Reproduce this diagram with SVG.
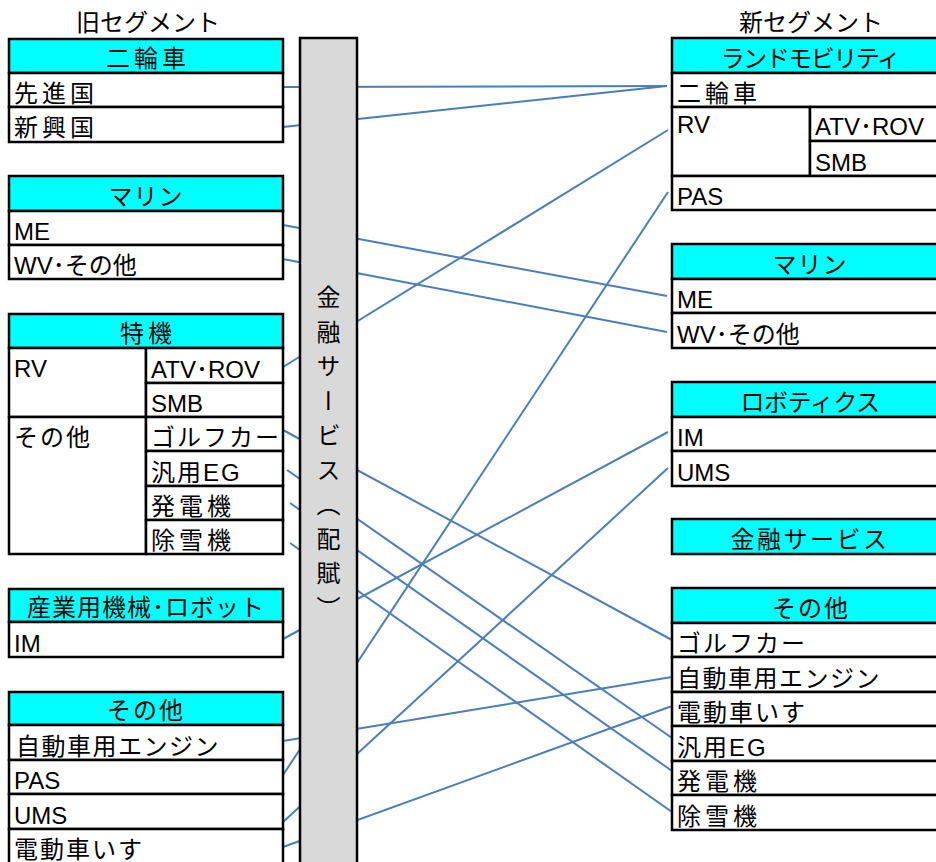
<svg xmlns="http://www.w3.org/2000/svg" width="936" height="862" viewBox="0 0 936 862">
<style>
text{font-family:"Liberation Sans","Noto Sans CJK JP",sans-serif;font-size:24px;fill:#000}
.t{font-size:24px;text-anchor:middle}
.h{text-anchor:middle;letter-spacing:1px}
.k{text-anchor:middle;letter-spacing:4px}
.j{letter-spacing:2px}
.jk{letter-spacing:4px}
.hd{fill:#00ffff;stroke:#000;stroke-width:2.5}
.rw{fill:#fff;stroke:#000;stroke-width:2.5}
.cn line{stroke:#4a7ebb;stroke-width:2;fill:none}
.bar{fill:#d9d9d9;stroke:#000;stroke-width:2.5}
.vt{font-family:"Noto Sans CJK JP",sans-serif;writing-mode:vertical-rl;letter-spacing:10.5px}
</style>
<rect width="936" height="862" fill="#fff"/>
<text class="t" x="148" y="31">旧セグメント</text>
<text class="t" x="811" y="31">新セグメント</text>

<g id="connectors" class="cn">
<line x1="283" y1="87" x2="667" y2="86"/>
<line x1="283" y1="127" x2="667" y2="86"/>
<line x1="283" y1="225" x2="667" y2="296"/>
<line x1="283" y1="259" x2="667" y2="332"/>
<line x1="283" y1="367" x2="668" y2="130"/>
<line x1="283" y1="430" x2="672" y2="640"/>
<line x1="287" y1="470" x2="672" y2="738"/>
<line x1="290" y1="503" x2="672" y2="771"/>
<line x1="290" y1="543" x2="672" y2="812"/>
<line x1="283" y1="639" x2="668" y2="432"/>
<line x1="283" y1="741" x2="672" y2="677"/>
<line x1="283" y1="775" x2="668" y2="192"/>
<line x1="283" y1="822" x2="668" y2="468"/>
<line x1="283" y1="847" x2="672" y2="706"/>
</g>

<g id="old-nirinsha">
<rect class="hd" x="9" y="39" width="274" height="34"/>
<rect class="rw" x="9" y="73" width="274" height="34"/>
<rect class="rw" x="9" y="107" width="274" height="35"/>
<text class="k" x="148" y="67">二輪車</text>
<text class="jk" x="14" y="102">先進国</text>
<text class="jk" x="14" y="136">新興国</text>
</g>

<g id="old-marine">
<rect class="hd" x="9" y="176" width="274" height="35"/>
<rect class="rw" x="9" y="211" width="274" height="34"/>
<rect class="rw" x="9" y="245" width="274" height="34"/>
<text class="h" x="146" y="205">マリン</text>
<text x="14" y="240">ME</text>
<text x="14" y="274">WV･その他</text>
</g>

<g id="old-tokki">
<rect class="hd" x="9" y="314" width="274" height="34"/>
<rect class="rw" x="9" y="348" width="137" height="69"/>
<rect class="rw" x="9" y="417" width="137" height="137"/>
<rect class="rw" x="146" y="348" width="137" height="35"/>
<rect class="rw" x="146" y="383" width="137" height="34"/>
<rect class="rw" x="146" y="417" width="137" height="34"/>
<rect class="rw" x="146" y="451" width="137" height="35"/>
<rect class="rw" x="146" y="486" width="137" height="34"/>
<rect class="rw" x="146" y="520" width="137" height="34"/>
<text class="k" x="148" y="342">特機</text>
<text x="14" y="377">RV</text>
<text x="151" y="378">ATV･ROV</text>
<text x="151" y="412">SMB</text>
<text class="j" x="14" y="446">その他</text>
<text class="j" x="151" y="446">ゴルフカー</text>
<text x="151" y="481" style="letter-spacing:2px">汎用EG</text>
<text class="jk" x="151" y="515">発電機</text>
<text class="jk" x="151" y="549">除雪機</text>
</g>

<g id="old-sangyo">
<rect class="hd" x="9" y="589" width="274" height="33"/>
<rect class="rw" x="9" y="622" width="274" height="35"/>
<text class="h" x="146" y="616">産業用機械･ロボット</text>
<text x="14" y="652">IM</text>
</g>

<g id="old-sonota">
<rect class="hd" x="9" y="692" width="274" height="33"/>
<rect class="rw" x="9" y="725" width="274" height="35"/>
<rect class="rw" x="9" y="760" width="274" height="34"/>
<rect class="rw" x="9" y="794" width="274" height="35"/>
<rect class="rw" x="9" y="829" width="274" height="40"/>
<text class="h" x="146" y="719" style="letter-spacing:2px">その他</text>
<text x="16" y="755" style="letter-spacing:1.5px">自動車用エンジン</text>
<text x="14" y="789">PAS</text>
<text x="14" y="824">UMS</text>
<text class="j" x="14" y="858">電動車いす</text>
</g>

<g id="finance-bar">
<rect class="bar" x="300" y="38" width="57" height="840"/>
<text class="vt" x="328.5" y="285">金融サービス（配賦）</text>
</g>

<g id="new-land">
<rect class="hd" x="672" y="38" width="276" height="35"/>
<rect class="rw" x="672" y="73" width="276" height="34"/>
<rect class="rw" x="672" y="107" width="138" height="69"/>
<rect class="rw" x="810" y="107" width="138" height="34"/>
<rect class="rw" x="810" y="141" width="138" height="35"/>
<rect class="rw" x="672" y="176" width="276" height="34"/>
<text class="h" x="810" y="67" style="letter-spacing:-1.5px">ランドモビリティ</text>
<text class="jk" x="677" y="102">二輪車</text>
<text x="677" y="133">RV</text>
<text x="815" y="135">ATV･ROV</text>
<text x="815" y="171">SMB</text>
<text x="677" y="205">PAS</text>
</g>

<g id="new-marine">
<rect class="hd" x="672" y="244" width="276" height="35"/>
<rect class="rw" x="672" y="279" width="276" height="34"/>
<rect class="rw" x="672" y="313" width="276" height="35"/>
<text class="h" x="810" y="273">マリン</text>
<text x="677" y="308">ME</text>
<text x="677" y="343">WV･その他</text>
</g>

<g id="new-robotics">
<rect class="hd" x="672" y="382" width="276" height="35"/>
<rect class="rw" x="672" y="417" width="276" height="34"/>
<rect class="rw" x="672" y="451" width="276" height="35"/>
<text class="h" x="810" y="411" style="letter-spacing:-0.5px">ロボティクス</text>
<text x="677" y="446">IM</text>
<text x="677" y="481">UMS</text>
</g>

<g id="new-finance">
<rect class="hd" x="672" y="519" width="276" height="35"/>
<text class="h" x="810" y="548" style="letter-spacing:2.5px">金融サービス</text>
</g>

<g id="new-sonota">
<rect class="hd" x="672" y="588" width="276" height="35"/>
<rect class="rw" x="672" y="623" width="276" height="34"/>
<rect class="rw" x="672" y="657" width="276" height="35"/>
<rect class="rw" x="672" y="692" width="276" height="34"/>
<rect class="rw" x="672" y="726" width="276" height="35"/>
<rect class="rw" x="672" y="761" width="276" height="34"/>
<rect class="rw" x="672" y="795" width="276" height="35"/>
<text class="h" x="811" y="617" style="letter-spacing:2px">その他</text>
<text class="j" x="677" y="652">ゴルフカー</text>
<text x="677" y="687" style="letter-spacing:1.5px">自動車用エンジン</text>
<text class="j" x="677" y="721">電動車いす</text>
<text x="677" y="756" style="letter-spacing:2px">汎用EG</text>
<text class="jk" x="677" y="790">発電機</text>
<text class="jk" x="677" y="825">除雪機</text>
</g>
</svg>
